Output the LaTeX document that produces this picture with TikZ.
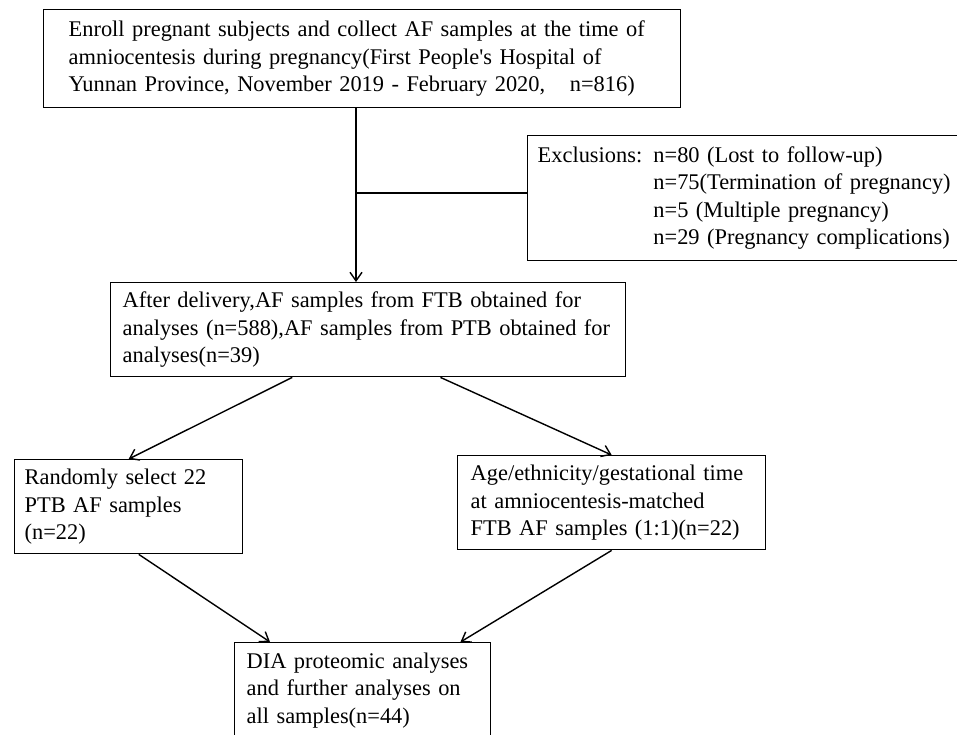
\documentclass[tikz,border=0pt]{standalone}
\usepackage{fontspec}
\setmainfont{Liberation Serif}
\usepackage{tikz}
\usetikzlibrary{arrows.meta,positioning,calc}

\begin{document}
\begin{tikzpicture}[
    x=0.02cm,y=-0.02cm,
    box/.style={draw,line width=0.8pt,anchor=north west,align=left,inner ysep=0pt,
        font=\fontsize{12.75}{15.6}\selectfont},
    arrow/.style={-{Straight Barb[length=1.7mm,width=2.4mm]},line width=0.8pt}
]
\useasboundingbox (0,0) rectangle (957,734);
\node[box,inner xsep=0.5cm,text width=11.74cm,minimum height=1.96cm] (enroll) at (43,9)
    {Enroll pregnant subjects and collect AF samples at the time of\\
     amniocentesis during pregnancy(First People\textquotesingle s Hospital of\\
     Yunnan Province, November 2019 - February 2020,\hspace{1.1em}n=816)};
\node[box,inner xsep=0.2cm,text width=8.6cm,minimum height=2.5cm] (excl) at (527,135)
    {Exclusions: n=80 (Lost to follow-up)\\
     \phantom{Exclusions: }n=75(Termination of pregnancy)\\
     \phantom{Exclusions: }n=5 (Multiple pregnancy)\\
     \phantom{Exclusions: }n=29 (Pregnancy complications)};
\node[box,inner xsep=0.24cm,text width=9.82cm,minimum height=1.88cm] (after) at (110,282)
    {After delivery,AF samples from FTB obtained for\\
     analyses (n=588),AF samples from PTB obtained for\\
     analyses(n=39)};
\node[box,inner xsep=0.2cm,text width=4.16cm,minimum height=1.88cm] (ptb) at (14,459)
    {Randomly select 22\\
     PTB AF samples\\
     (n=22)};
\node[box,inner xsep=0.26cm,text width=5.64cm,minimum height=1.88cm] (ftb) at (457,455)
    {Age/ethnicity/gestational time\\
     at amniocentesis-matched\\
     FTB AF samples (1:1)(n=22)};
\node[box,inner xsep=0.24cm,inner ysep=0.2cm,text width=4.64cm] (dia) at (234,642)
    {DIA proteomic analyses\\
     and further analyses on\\
     all samples(n=44)\rule[-0.8cm]{0pt}{0pt}};
\coordinate (split) at (356,193);
\draw[arrow] (enroll.south -| split) -- (after.north -| split);
\draw[line width=0.8pt] (split) -- (split -| excl.west);
\draw[arrow] ($(after.south west)!0.353!(after.south east)$) -- (ptb.north);
\draw[arrow] ($(after.south west)!0.64!(after.south east)$) -- (ftb.north);
\draw[arrow] ($(ptb.south west)!0.544!(ptb.south east)$) -- ($(dia.north west)!0.14!(dia.north east)$);
\draw[arrow] (ftb.south) -- ($(dia.north west)!0.88!(dia.north east)$);
\end{tikzpicture}
\end{document}
